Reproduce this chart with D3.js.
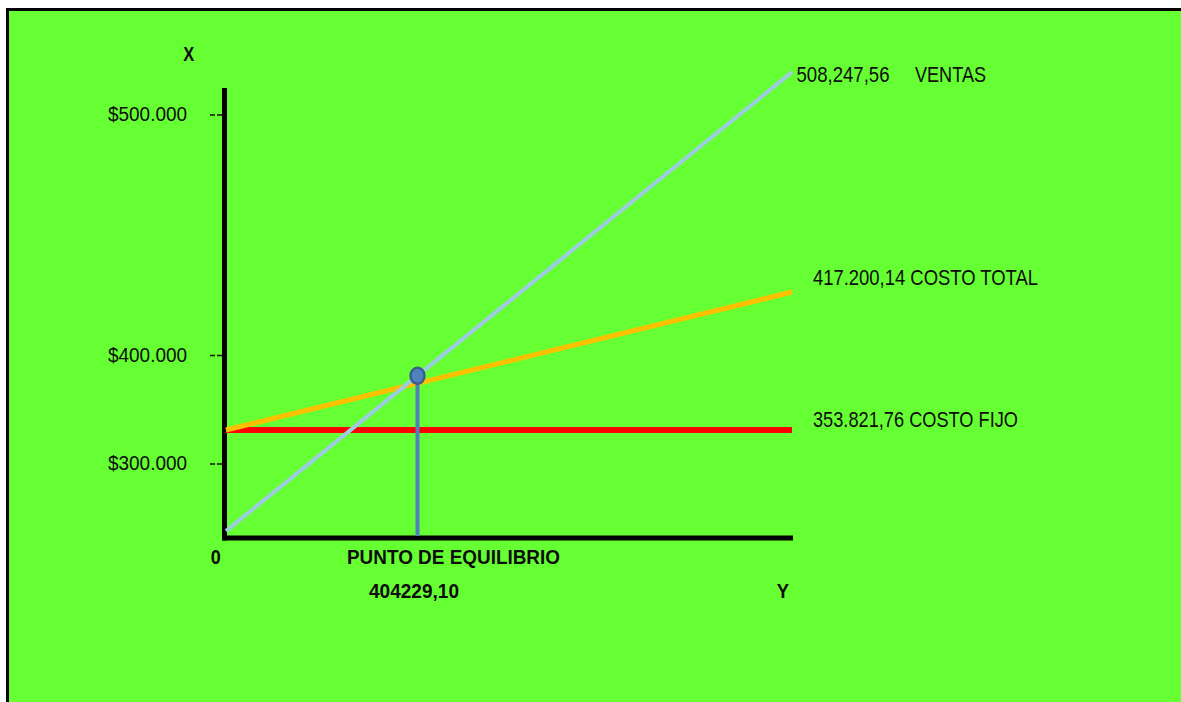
<!DOCTYPE html>
<html>
<head>
<meta charset="utf-8">
<script src="https://cdn.jsdelivr.net/npm/d3@7"></script>
<style>
  html, body { margin: 0; padding: 0; background: #ffffff; }
  svg { display: block; }
  .lbl { font-family: "Liberation Sans", Arial, sans-serif; fill: #0d0d0d; }
  .bold { font-family: "Liberation Sans", Arial, sans-serif; font-weight: bold; fill: #0d0d0d; }
</style>
</head>
<body>
<svg id="chart" width="1181" height="702"></svg>
<script>
// ---- Data -------------------------------------------------------------
const yTickValues = [300000, 400000, 500000];
const yTickLabels = ["$300.000", "$400.000", "$500.000"];

const breakEven = 404229.10;     // punto de equilibrio (ventas)
const salesMax = 508247.56;      // nivel máximo de ventas del gráfico

const seriesNames = ["COSTO FIJO", "COSTO TOTAL", "VENTAS"];
const seriesLabels = ["353.821,76", "417.200,14", "508,247,56"];
const costoFijo = [353821.76, 353821.76];   // at 0 and at salesMax
const costoTotal = [353821.76, 417200.14];
const ventas = [0, 508247.56];
const xLevels = [0, salesMax];

// ---- Layout -----------------------------------------------------------
const svg = d3.select("#chart");

// Background panel with black frame
svg.append("rect")
  .attr("x", 7.5).attr("y", 9.5)
  .attr("width", 1300).attr("height", 800)
  .attr("fill", "#66ff33")
  .attr("stroke", "#000").attr("stroke-width", 3);

// Condensed text: fit a label to a given width
function fit(sel, w) {
  return sel.attr("textLength", w).attr("lengthAdjust", "spacingAndGlyphs");
}

// The drawing is schematic, not to scale: both scales are piecewise linear
// through the values that are labelled on the chart.
const x = d3.scaleLinear()
  .domain([0, breakEven, salesMax])
  .range([226, 417.5, 792]);

const yAnchorValues = [0, 300000, 353821.76, 400000, 417200.14, 500000, 508247.56];
const yAnchorPixels = [531, 463.5, 430, 355, 292, 114.5, 72];
const y = d3.scaleLinear().domain(yAnchorValues).range(yAnchorPixels);

// ---- Axes -------------------------------------------------------------
const yAxis = d3.axisLeft(y)
  .tickValues(yTickValues)
  .tickFormat((d, i) => yTickLabels[i])
  .tickSize(13)
  .tickPadding(22);

const gy = svg.append("g").attr("transform", "translate(222,0)").call(yAxis);
gy.select(".domain").remove();
gy.selectAll(".tick line")
  .attr("stroke", "#111").attr("stroke-width", 1.4)
  .attr("stroke-dasharray", "5,2,5,20");
gy.selectAll(".tick text")
  .attr("class", "lbl")
  .attr("font-size", 20)
  .attr("dy", "0.32em")
  .attr("fill", "#0d0d0d")
  .call(fit, 79);

// thick axis lines
svg.append("line")
  .attr("x1", 224.5).attr("x2", 224.5)
  .attr("y1", 88).attr("y2", 540.5)
  .attr("stroke", "#000").attr("stroke-width", 5);
svg.append("line")
  .attr("x1", 222).attr("x2", x(salesMax) + 1)
  .attr("y1", 538).attr("y2", 538)
  .attr("stroke", "#000").attr("stroke-width", 5);

// ---- Lines ------------------------------------------------------------
const line = d3.line().x(d => x(d[0])).y(d => y(d[1]));
const pts = vals => xLevels.map((lv, i) => [lv, vals[i]]);

const seriesData = [costoFijo, costoTotal, ventas];
const seriesColors = ["#ff0000", "#ffc000", "#9dcbe1"];
const seriesWidths = [6, 5, 4];

seriesData.forEach((vals, i) => {
  svg.append("path")
    .datum(pts(vals))
    .attr("d", line)
    .attr("fill", "none")
    .attr("stroke", seriesColors[i])
    .attr("stroke-width", seriesWidths[i]);
});

// ---- Break-even marker -----------------------------------------------
const bx = x(breakEven);
const v0 = [x(xLevels[0]), y(ventas[0])];
const v1 = [x(xLevels[1]), y(ventas[1])];
const by = v0[1] + (bx - v0[0]) / (v1[0] - v0[0]) * (v1[1] - v0[1]);

svg.append("line")
  .attr("x1", bx).attr("x2", bx)
  .attr("y1", by).attr("y2", 536)
  .attr("stroke", "#4f81bd").attr("stroke-width", 4);
svg.append("ellipse")
  .attr("cx", bx).attr("cy", by)
  .attr("rx", 7).attr("ry", 8)
  .attr("fill", "#4f81bd")
  .attr("stroke", "#3a5f8f").attr("stroke-width", 2.5);

// ---- Series labels ----------------------------------------------------
// value text and name text, each fitted to its width
const labelLayout = [
  { x: 813, y: 426.5, w: 205, nameX: null },
  { x: 813, y: 285, w: 225, nameX: null },
  { x: 796.5, y: 82, w: 93, nameX: 915, nameW: 71 }
];
seriesNames.forEach((name, i) => {
  const L = labelLayout[i];
  if (L.nameX === null) {
    svg.append("text").attr("class", "lbl")
      .attr("font-size", 22.5)
      .attr("x", L.x).attr("y", L.y)
      .text(seriesLabels[i] + " " + name)
      .call(fit, L.w);
  } else {
    svg.append("text").attr("class", "lbl")
      .attr("font-size", 22.5)
      .attr("x", L.x).attr("y", L.y)
      .text(seriesLabels[i])
      .call(fit, L.w);
    svg.append("text").attr("class", "lbl")
      .attr("font-size", 22.5)
      .attr("x", L.nameX).attr("y", L.y)
      .text(name)
      .call(fit, L.nameW);
  }
});

// ---- Axis captions ----------------------------------------------------
const captions = [
  { t: "X", x: 183.3, y: 61, w: 11 },
  { t: "0", x: 210.7, y: 564, w: 10 },
  { t: "PUNTO DE EQUILIBRIO", x: 347, y: 564, w: 213 },
  { t: d3.format(".2f")(breakEven).replace(".", ","), x: 369, y: 598, w: 90 },
  { t: "Y", x: 776.7, y: 597.5, w: 12.3 }
];
captions.forEach(c => {
  svg.append("text").attr("class", "bold")
    .attr("font-size", 20.5)
    .attr("x", c.x).attr("y", c.y)
    .text(c.t)
    .call(fit, c.w);
});
</script>
</body>
</html>
